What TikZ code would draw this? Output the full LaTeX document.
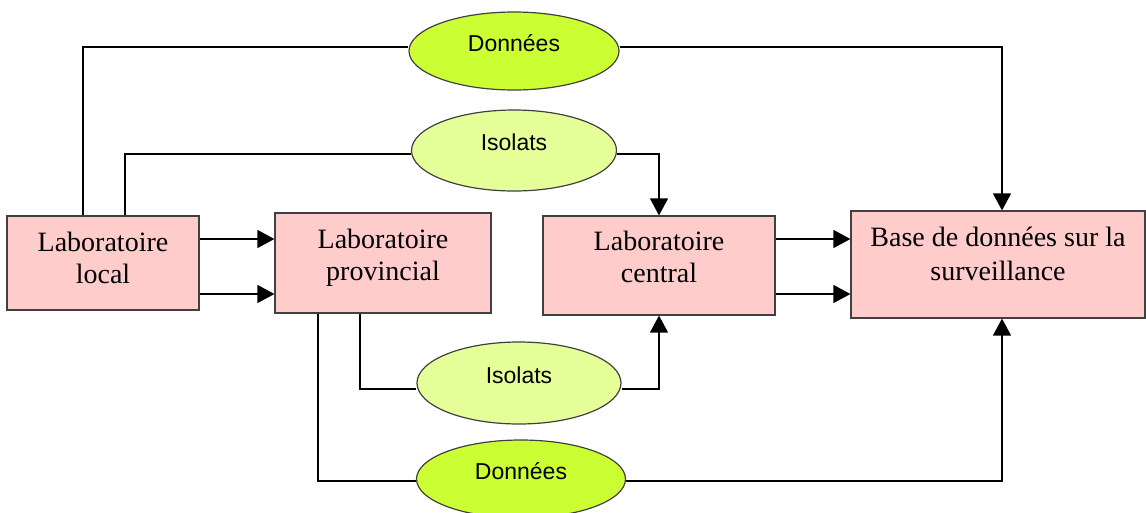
\documentclass[tikz,border=0pt]{standalone}
\usepackage{fontspec}
\setmainfont{Liberation Serif}
\newfontfamily\ellfont{Liberation Sans}
\usetikzlibrary{shapes.geometric,arrows.meta}
\definecolor{boxpink}{RGB}{255,204,204}
\definecolor{dgreen}{RGB}{204,255,51}
\definecolor{lgreen}{RGB}{229,255,153}
\definecolor{edge}{RGB}{64,64,64}
\begin{document}
\begin{tikzpicture}[x=1pt,y=-1pt,
  box/.style={draw=edge, line width=1.2pt, fill=boxpink, rectangle, inner sep=0pt,
    align=center, font=\fontsize{28}{32}\selectfont},
  ell/.style={draw=edge, line width=1.2pt, ellipse, inner sep=0pt,
    font=\ellfont\fontsize{23}{27}\selectfont, text height=17pt, text depth=17pt},
  conn/.style={line width=1.3pt},
  arr/.style={conn, -{Triangle[length=17pt,width=18pt]}}]
\useasboundingbox (0,0) rectangle (1146,512);

\node[box, minimum width=192pt, minimum height=94pt, text depth=10pt] (loc) at (103,263) {Laboratoire\\local};
\node[box, minimum width=216pt, minimum height=100pt, text depth=16pt] (prov) at (383,263) {Laboratoire\\provincial};
\node[box, minimum width=232pt, minimum height=99pt, text depth=18pt] (cen) at (659,265.5) {Laboratoire\\central};
\node[box, minimum width=294pt, minimum height=107pt, text depth=22pt,
  font=\fontsize{28}{34}\selectfont] (base) at (998,264.5) {Base de données sur la\\surveillance};

\node[ell, fill=dgreen, minimum width=210pt, minimum height=78pt] (d1) at (514,51) {Données};
\node[ell, fill=lgreen, minimum width=205pt, minimum height=81pt] (i1) at (514,150.5) {Isolats};
\node[ell, fill=lgreen, minimum width=204pt, minimum height=82pt] (i2) at (519,383) {Isolats};
\node[ell, fill=dgreen, minimum width=209pt, minimum height=78pt] (d2) at (521,479) {Données};

% top Donnees
\draw[conn] ([xshift=-20pt]loc.north) |- ([yshift=4pt]d1.west);
\draw[arr] ([yshift=4pt]d1.east) -| ([xshift=4pt]base.north);
% top Isolats
\draw[conn] ([xshift=22pt]loc.north) |- ([yshift=-3.5pt]i1.west);
\draw[arr] ([yshift=-3.5pt]i1.east) -| (cen.north);
% local -> provincial
\draw[arr] ([yshift=24pt]loc.east) -- ([yshift=24pt]loc.east -| prov.west);
\draw[arr] ([yshift=-31pt]loc.east) -- ([yshift=-31pt]loc.east -| prov.west);
% central -> base
\draw[arr] ([yshift=26.5pt]cen.east) -- ([yshift=26.5pt]cen.east -| base.west);
\draw[arr] ([yshift=-28.5pt]cen.east) -- ([yshift=-28.5pt]cen.east -| base.west);
% bottom Isolats
\draw[conn] ([xshift=-23pt]prov.south) |- ([yshift=-6pt]i2.west);
\draw[arr] ([yshift=-6pt]i2.east) -| (cen.south);
% bottom Donnees
\draw[conn] ([xshift=-65pt]prov.south) |- ([yshift=-2pt]d2.west);
\draw[arr] ([yshift=-2pt]d2.east) -| ([xshift=4pt]base.south);
\end{tikzpicture}
\end{document}
